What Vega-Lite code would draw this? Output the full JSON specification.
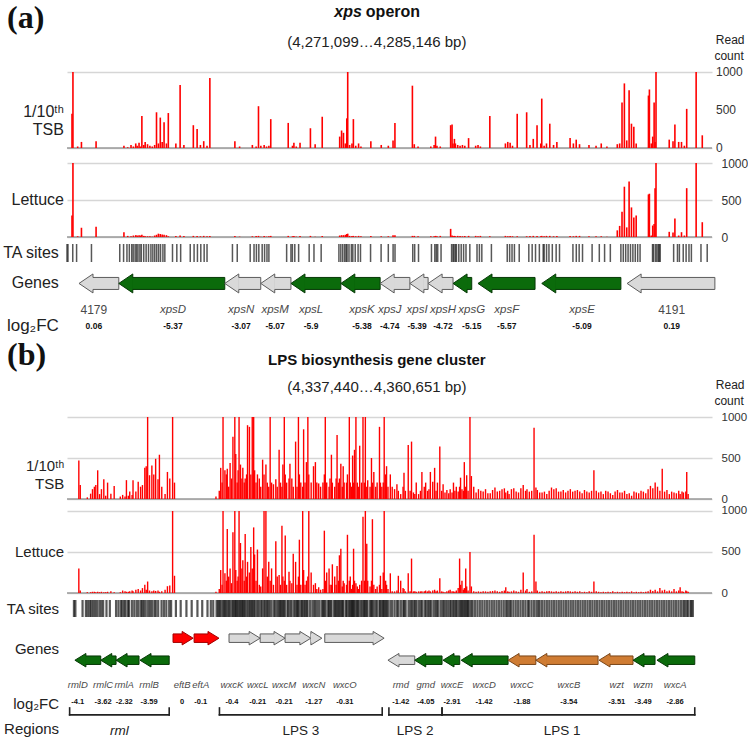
{
"$schema":"https://vega.github.io/schema/vega-lite/v6.json",
"padding":{"left":2,"top":0,"right":0,"bottom":0},
"background":"white",
"bounds":"flush",
"spacing":0,
"config":{"view":{"stroke":null},"font":"Liberation Sans","axis":{"labelOverlap":false,"labelBound":false,"labelSeparation":0,"format":"d"}},
"datasets":{
"sitesA":[{"pos":0,"tsb":450,"let":290},{"pos":2,"tsb":1000,"let":1000},{"pos":12,"tsb":20,"let":10},{"pos":20,"tsb":80,"let":125},{"pos":51,"tsb":90,"let":140},{"pos":110,"tsb":30,"let":65},{"pos":118,"tsb":10,"let":15},{"pos":125,"tsb":40,"let":10},{"pos":130,"tsb":20,"let":20},{"pos":135,"tsb":60,"let":25},{"pos":138,"tsb":30,"let":20},{"pos":142,"tsb":70,"let":25},{"pos":145,"tsb":20,"let":20},{"pos":148,"tsb":420,"let":30},{"pos":152,"tsb":40,"let":15},{"pos":155,"tsb":80,"let":10},{"pos":160,"tsb":50,"let":10},{"pos":165,"tsb":30,"let":10},{"pos":170,"tsb":20,"let":5},{"pos":175,"tsb":40,"let":20},{"pos":179,"tsb":470,"let":30},{"pos":183,"tsb":60,"let":45},{"pos":187,"tsb":400,"let":40},{"pos":191,"tsb":80,"let":35},{"pos":195,"tsb":340,"let":30},{"pos":200,"tsb":60,"let":25},{"pos":204,"tsb":460,"let":10},{"pos":220,"tsb":60,"let":15},{"pos":229,"tsb":830,"let":20},{"pos":237,"tsb":40,"let":15},{"pos":257,"tsb":300,"let":15},{"pos":265,"tsb":250,"let":15},{"pos":272,"tsb":40,"let":10},{"pos":279,"tsb":90,"let":15},{"pos":286,"tsb":30,"let":10},{"pos":292,"tsb":920,"let":15},{"pos":345,"tsb":90,"let":15},{"pos":355,"tsb":20,"let":5},{"pos":382,"tsb":40,"let":10},{"pos":390,"tsb":20,"let":15},{"pos":395,"tsb":550,"let":15},{"pos":400,"tsb":30,"let":5},{"pos":407,"tsb":40,"let":15},{"pos":412,"tsb":20,"let":5},{"pos":417,"tsb":30,"let":10},{"pos":421,"tsb":380,"let":15},{"pos":458,"tsb":330,"let":15},{"pos":467,"tsb":30,"let":10},{"pos":470,"tsb":70,"let":15},{"pos":475,"tsb":20,"let":5},{"pos":483,"tsb":70,"let":15},{"pos":505,"tsb":260,"let":15},{"pos":515,"tsb":50,"let":5},{"pos":530,"tsb":410,"let":15},{"pos":567,"tsb":150,"let":20},{"pos":571,"tsb":230,"let":25},{"pos":575,"tsb":200,"let":25},{"pos":579,"tsb":60,"let":30},{"pos":582,"tsb":390,"let":40},{"pos":584,"tsb":1000,"let":45},{"pos":588,"tsb":40,"let":15},{"pos":593,"tsb":60,"let":15},{"pos":596,"tsb":380,"let":15},{"pos":601,"tsb":30,"let":10},{"pos":607,"tsb":60,"let":15},{"pos":612,"tsb":20,"let":10},{"pos":633,"tsb":90,"let":15},{"pos":655,"tsb":40,"let":10},{"pos":670,"tsb":30,"let":10},{"pos":680,"tsb":100,"let":25},{"pos":684,"tsb":330,"let":25},{"pos":721,"tsb":820,"let":15},{"pos":725,"tsb":50,"let":15},{"pos":733,"tsb":20,"let":10},{"pos":760,"tsb":20,"let":10},{"pos":767,"tsb":40,"let":10},{"pos":770,"tsb":150,"let":15},{"pos":773,"tsb":30,"let":10},{"pos":780,"tsb":20,"let":15},{"pos":802,"tsb":300,"let":110},{"pos":805,"tsb":310,"let":20},{"pos":807,"tsb":60,"let":15},{"pos":810,"tsb":120,"let":15},{"pos":812,"tsb":60,"let":10},{"pos":817,"tsb":40,"let":15},{"pos":822,"tsb":30,"let":15},{"pos":827,"tsb":40,"let":10},{"pos":832,"tsb":30,"let":15},{"pos":840,"tsb":130,"let":15},{"pos":855,"tsb":30,"let":15},{"pos":860,"tsb":40,"let":10},{"pos":865,"tsb":20,"let":15},{"pos":885,"tsb":420,"let":10},{"pos":918,"tsb":60,"let":15},{"pos":923,"tsb":80,"let":10},{"pos":928,"tsb":70,"let":15},{"pos":933,"tsb":30,"let":10},{"pos":943,"tsb":450,"let":10},{"pos":963,"tsb":470,"let":10},{"pos":970,"tsb":40,"let":15},{"pos":977,"tsb":120,"let":15},{"pos":985,"tsb":300,"let":15},{"pos":993,"tsb":60,"let":10},{"pos":995,"tsb":650,"let":15},{"pos":1000,"tsb":30,"let":10},{"pos":1005,"tsb":60,"let":15},{"pos":1012,"tsb":320,"let":15},{"pos":1020,"tsb":40,"let":10},{"pos":1027,"tsb":80,"let":15},{"pos":1055,"tsb":130,"let":15},{"pos":1062,"tsb":60,"let":10},{"pos":1068,"tsb":110,"let":15},{"pos":1075,"tsb":50,"let":15},{"pos":1095,"tsb":40,"let":10},{"pos":1110,"tsb":30,"let":10},{"pos":1121,"tsb":60,"let":10},{"pos":1133,"tsb":20,"let":5},{"pos":1155,"tsb":50,"let":90},{"pos":1160,"tsb":60,"let":150},{"pos":1165,"tsb":600,"let":340},{"pos":1170,"tsb":850,"let":680},{"pos":1175,"tsb":100,"let":130},{"pos":1180,"tsb":760,"let":750},{"pos":1185,"tsb":320,"let":400},{"pos":1190,"tsb":280,"let":265},{"pos":1195,"tsb":60,"let":290},{"pos":1221,"tsb":690,"let":575},{"pos":1223,"tsb":770,"let":585},{"pos":1227,"tsb":60,"let":20},{"pos":1230,"tsb":150,"let":155},{"pos":1233,"tsb":600,"let":175},{"pos":1235,"tsb":80,"let":660},{"pos":1237,"tsb":1000,"let":1000},{"pos":1265,"tsb":110,"let":70},{"pos":1273,"tsb":90,"let":60},{"pos":1277,"tsb":310,"let":250},{"pos":1285,"tsb":80,"let":20},{"pos":1291,"tsb":80,"let":65},{"pos":1297,"tsb":30,"let":20},{"pos":1302,"tsb":515,"let":660},{"pos":1322,"tsb":1000,"let":1000},{"pos":1335,"tsb":167,"let":200}],
"sitesB":[{"pos":2,"tsb":470,"let":300},{"pos":5,"tsb":170,"let":30},{"pos":20,"tsb":20,"let":10},{"pos":27,"tsb":65,"let":10},{"pos":31,"tsb":120,"let":15},{"pos":35,"tsb":150,"let":15},{"pos":38,"tsb":170,"let":10},{"pos":42,"tsb":350,"let":15},{"pos":46,"tsb":60,"let":10},{"pos":50,"tsb":120,"let":15},{"pos":55,"tsb":240,"let":10},{"pos":59,"tsb":40,"let":10},{"pos":63,"tsb":200,"let":15},{"pos":70,"tsb":65,"let":20},{"pos":77,"tsb":160,"let":10},{"pos":90,"tsb":30,"let":10},{"pos":95,"tsb":50,"let":30},{"pos":100,"tsb":30,"let":20},{"pos":103,"tsb":230,"let":15},{"pos":107,"tsb":40,"let":15},{"pos":110,"tsb":90,"let":20},{"pos":115,"tsb":50,"let":30},{"pos":117,"tsb":230,"let":20},{"pos":123,"tsb":90,"let":40},{"pos":128,"tsb":210,"let":50},{"pos":133,"tsb":150,"let":30},{"pos":137,"tsb":170,"let":60},{"pos":142,"tsb":380,"let":100},{"pos":145,"tsb":400,"let":40},{"pos":148,"tsb":1000,"let":140},{"pos":152,"tsb":290,"let":30},{"pos":157,"tsb":410,"let":20},{"pos":161,"tsb":300,"let":30},{"pos":165,"tsb":490,"let":25},{"pos":170,"tsb":240,"let":30},{"pos":173,"tsb":540,"let":15},{"pos":178,"tsb":150,"let":20},{"pos":185,"tsb":60,"let":40},{"pos":190,"tsb":330,"let":83},{"pos":195,"tsb":250,"let":90},{"pos":201,"tsb":1000,"let":1000},{"pos":205,"tsb":200,"let":210},{"pos":215,"tsb":0,"let":0},{"pos":225,"tsb":0,"let":0},{"pos":237,"tsb":0,"let":0},{"pos":248,"tsb":0,"let":0},{"pos":260,"tsb":0,"let":0},{"pos":270,"tsb":0,"let":0},{"pos":281,"tsb":0,"let":0},{"pos":288,"tsb":0,"let":0},{"pos":293,"tsb":30,"let":15},{"pos":300,"tsb":100,"let":50},{"pos":303,"tsb":380,"let":280},{"pos":306,"tsb":200,"let":100},{"pos":308,"tsb":1000,"let":1000},{"pos":312,"tsb":350,"let":240},{"pos":315,"tsb":300,"let":150},{"pos":317,"tsb":370,"let":780},{"pos":320,"tsb":150,"let":200},{"pos":323,"tsb":440,"let":300},{"pos":326,"tsb":250,"let":120},{"pos":329,"tsb":760,"let":740},{"pos":333,"tsb":1000,"let":1000},{"pos":335,"tsb":550,"let":280},{"pos":338,"tsb":200,"let":150},{"pos":340,"tsb":350,"let":200},{"pos":342,"tsb":1000,"let":1000},{"pos":345,"tsb":420,"let":610},{"pos":348,"tsb":250,"let":300},{"pos":350,"tsb":380,"let":400},{"pos":353,"tsb":200,"let":150},{"pos":355,"tsb":250,"let":720},{"pos":358,"tsb":300,"let":200},{"pos":360,"tsb":900,"let":380},{"pos":364,"tsb":880,"let":250},{"pos":367,"tsb":300,"let":560},{"pos":370,"tsb":1000,"let":300},{"pos":373,"tsb":1000,"let":800},{"pos":375,"tsb":350,"let":470},{"pos":378,"tsb":200,"let":150},{"pos":381,"tsb":300,"let":530},{"pos":385,"tsb":250,"let":100},{"pos":388,"tsb":150,"let":80},{"pos":392,"tsb":480,"let":300},{"pos":395,"tsb":300,"let":1000},{"pos":399,"tsb":420,"let":1000},{"pos":402,"tsb":200,"let":200},{"pos":405,"tsb":150,"let":380},{"pos":408,"tsb":1000,"let":150},{"pos":411,"tsb":200,"let":300},{"pos":415,"tsb":180,"let":100},{"pos":420,"tsb":240,"let":630},{"pos":423,"tsb":150,"let":200},{"pos":427,"tsb":600,"let":220},{"pos":430,"tsb":200,"let":100},{"pos":433,"tsb":150,"let":820},{"pos":435,"tsb":420,"let":200},{"pos":438,"tsb":1000,"let":150},{"pos":440,"tsb":300,"let":700},{"pos":443,"tsb":200,"let":100},{"pos":448,"tsb":250,"let":260},{"pos":450,"tsb":430,"let":150},{"pos":454,"tsb":250,"let":120},{"pos":457,"tsb":150,"let":480},{"pos":462,"tsb":700,"let":380},{"pos":465,"tsb":150,"let":100},{"pos":468,"tsb":1000,"let":200},{"pos":470,"tsb":300,"let":650},{"pos":473,"tsb":200,"let":100},{"pos":477,"tsb":150,"let":1000},{"pos":479,"tsb":850,"let":280},{"pos":482,"tsb":200,"let":100},{"pos":485,"tsb":450,"let":150},{"pos":488,"tsb":1000,"let":200},{"pos":490,"tsb":300,"let":1000},{"pos":495,"tsb":200,"let":250},{"pos":500,"tsb":400,"let":100},{"pos":504,"tsb":450,"let":120},{"pos":507,"tsb":200,"let":50},{"pos":511,"tsb":190,"let":70},{"pos":515,"tsb":150,"let":40},{"pos":520,"tsb":200,"let":50},{"pos":523,"tsb":300,"let":760},{"pos":525,"tsb":1000,"let":150},{"pos":528,"tsb":200,"let":250},{"pos":533,"tsb":150,"let":300},{"pos":535,"tsb":250,"let":100},{"pos":538,"tsb":540,"let":100},{"pos":540,"tsb":200,"let":350},{"pos":545,"tsb":150,"let":200},{"pos":548,"tsb":250,"let":100},{"pos":550,"tsb":780,"let":330},{"pos":553,"tsb":200,"let":150},{"pos":555,"tsb":250,"let":460},{"pos":558,"tsb":430,"let":540},{"pos":561,"tsb":150,"let":80},{"pos":563,"tsb":400,"let":150},{"pos":565,"tsb":200,"let":120},{"pos":570,"tsb":200,"let":100},{"pos":572,"tsb":300,"let":710},{"pos":576,"tsb":1000,"let":150},{"pos":578,"tsb":200,"let":200},{"pos":581,"tsb":150,"let":50},{"pos":583,"tsb":530,"let":100},{"pos":585,"tsb":200,"let":540},{"pos":587,"tsb":600,"let":150},{"pos":590,"tsb":1000,"let":120},{"pos":593,"tsb":200,"let":80},{"pos":595,"tsb":150,"let":50},{"pos":598,"tsb":650,"let":100},{"pos":602,"tsb":200,"let":150},{"pos":605,"tsb":1000,"let":930},{"pos":608,"tsb":200,"let":150},{"pos":610,"tsb":1000,"let":1000},{"pos":613,"tsb":150,"let":600},{"pos":615,"tsb":230,"let":150},{"pos":620,"tsb":150,"let":80},{"pos":623,"tsb":500,"let":150},{"pos":625,"tsb":200,"let":900},{"pos":628,"tsb":330,"let":100},{"pos":632,"tsb":150,"let":50},{"pos":635,"tsb":200,"let":80},{"pos":640,"tsb":880,"let":100},{"pos":642,"tsb":200,"let":210},{"pos":645,"tsb":150,"let":50},{"pos":648,"tsb":200,"let":250},{"pos":650,"tsb":1000,"let":1000},{"pos":653,"tsb":300,"let":150},{"pos":655,"tsb":400,"let":100},{"pos":658,"tsb":150,"let":50},{"pos":663,"tsb":300,"let":240},{"pos":667,"tsb":150,"let":20},{"pos":672,"tsb":120,"let":20},{"pos":677,"tsb":180,"let":30},{"pos":680,"tsb":100,"let":210},{"pos":685,"tsb":60,"let":150},{"pos":690,"tsb":150,"let":60},{"pos":692,"tsb":320,"let":50},{"pos":695,"tsb":100,"let":20},{"pos":701,"tsb":660,"let":240},{"pos":705,"tsb":100,"let":20},{"pos":708,"tsb":700,"let":420},{"pos":712,"tsb":80,"let":20},{"pos":715,"tsb":60,"let":20},{"pos":718,"tsb":200,"let":15},{"pos":723,"tsb":60,"let":20},{"pos":727,"tsb":100,"let":20},{"pos":730,"tsb":330,"let":20},{"pos":735,"tsb":150,"let":20},{"pos":738,"tsb":200,"let":30},{"pos":742,"tsb":100,"let":20},{"pos":745,"tsb":120,"let":30},{"pos":748,"tsb":330,"let":20},{"pos":753,"tsb":210,"let":30},{"pos":757,"tsb":380,"let":40},{"pos":760,"tsb":100,"let":20},{"pos":763,"tsb":200,"let":30},{"pos":768,"tsb":640,"let":180},{"pos":772,"tsb":100,"let":20},{"pos":775,"tsb":180,"let":15},{"pos":779,"tsb":80,"let":10},{"pos":783,"tsb":110,"let":20},{"pos":787,"tsb":70,"let":30},{"pos":790,"tsb":120,"let":40},{"pos":794,"tsb":80,"let":20},{"pos":797,"tsb":200,"let":20},{"pos":800,"tsb":100,"let":15},{"pos":803,"tsb":150,"let":30},{"pos":807,"tsb":90,"let":60},{"pos":810,"tsb":150,"let":420},{"pos":812,"tsb":260,"let":100},{"pos":815,"tsb":120,"let":150},{"pos":818,"tsb":100,"let":40},{"pos":820,"tsb":450,"let":60},{"pos":823,"tsb":150,"let":300},{"pos":825,"tsb":290,"let":80},{"pos":828,"tsb":100,"let":30},{"pos":832,"tsb":1000,"let":500},{"pos":835,"tsb":280,"let":80},{"pos":840,"tsb":150,"let":20},{"pos":845,"tsb":80,"let":15},{"pos":850,"tsb":120,"let":20},{"pos":855,"tsb":100,"let":15},{"pos":860,"tsb":90,"let":20},{"pos":865,"tsb":120,"let":20},{"pos":870,"tsb":70,"let":15},{"pos":875,"tsb":70,"let":20},{"pos":880,"tsb":110,"let":25},{"pos":885,"tsb":140,"let":30},{"pos":890,"tsb":90,"let":20},{"pos":895,"tsb":100,"let":15},{"pos":900,"tsb":120,"let":25},{"pos":905,"tsb":130,"let":30},{"pos":908,"tsb":80,"let":70},{"pos":912,"tsb":100,"let":20},{"pos":915,"tsb":60,"let":15},{"pos":920,"tsb":120,"let":20},{"pos":925,"tsb":130,"let":30},{"pos":930,"tsb":90,"let":20},{"pos":935,"tsb":80,"let":15},{"pos":940,"tsb":130,"let":40},{"pos":945,"tsb":170,"let":250},{"pos":950,"tsb":100,"let":30},{"pos":953,"tsb":120,"let":50},{"pos":958,"tsb":90,"let":15},{"pos":963,"tsb":100,"let":20},{"pos":968,"tsb":870,"let":710},{"pos":972,"tsb":140,"let":140},{"pos":975,"tsb":110,"let":30},{"pos":980,"tsb":80,"let":15},{"pos":985,"tsb":80,"let":20},{"pos":990,"tsb":90,"let":15},{"pos":995,"tsb":60,"let":20},{"pos":1000,"tsb":100,"let":25},{"pos":1005,"tsb":140,"let":20},{"pos":1010,"tsb":120,"let":15},{"pos":1015,"tsb":130,"let":20},{"pos":1020,"tsb":90,"let":15},{"pos":1025,"tsb":90,"let":20},{"pos":1030,"tsb":110,"let":15},{"pos":1035,"tsb":80,"let":20},{"pos":1040,"tsb":100,"let":25},{"pos":1045,"tsb":120,"let":20},{"pos":1050,"tsb":90,"let":15},{"pos":1055,"tsb":100,"let":20},{"pos":1060,"tsb":110,"let":15},{"pos":1065,"tsb":90,"let":20},{"pos":1070,"tsb":70,"let":10},{"pos":1075,"tsb":110,"let":15},{"pos":1080,"tsb":90,"let":10},{"pos":1085,"tsb":80,"let":20},{"pos":1090,"tsb":100,"let":15},{"pos":1095,"tsb":350,"let":140},{"pos":1100,"tsb":100,"let":20},{"pos":1105,"tsb":80,"let":15},{"pos":1110,"tsb":90,"let":10},{"pos":1115,"tsb":60,"let":15},{"pos":1120,"tsb":100,"let":10},{"pos":1125,"tsb":90,"let":15},{"pos":1130,"tsb":70,"let":10},{"pos":1135,"tsb":50,"let":20},{"pos":1140,"tsb":90,"let":10},{"pos":1145,"tsb":110,"let":15},{"pos":1150,"tsb":80,"let":10},{"pos":1155,"tsb":80,"let":15},{"pos":1160,"tsb":100,"let":10},{"pos":1165,"tsb":60,"let":15},{"pos":1170,"tsb":70,"let":10},{"pos":1175,"tsb":40,"let":20},{"pos":1180,"tsb":90,"let":10},{"pos":1185,"tsb":80,"let":15},{"pos":1190,"tsb":70,"let":10},{"pos":1195,"tsb":100,"let":15},{"pos":1200,"tsb":90,"let":10},{"pos":1205,"tsb":70,"let":15},{"pos":1210,"tsb":120,"let":20},{"pos":1215,"tsb":160,"let":40},{"pos":1220,"tsb":130,"let":25},{"pos":1225,"tsb":200,"let":40},{"pos":1230,"tsb":150,"let":20},{"pos":1235,"tsb":100,"let":60},{"pos":1240,"tsb":370,"let":30},{"pos":1245,"tsb":90,"let":40},{"pos":1250,"tsb":110,"let":20},{"pos":1255,"tsb":60,"let":30},{"pos":1260,"tsb":90,"let":20},{"pos":1265,"tsb":80,"let":50},{"pos":1270,"tsb":70,"let":20},{"pos":1275,"tsb":100,"let":30},{"pos":1278,"tsb":60,"let":70},{"pos":1282,"tsb":90,"let":20},{"pos":1285,"tsb":80,"let":15},{"pos":1290,"tsb":90,"let":30},{"pos":1292,"tsb":330,"let":20},{"pos":1295,"tsb":60,"let":15}],
"genesA":[{"gene":"4179","from":25,"to":108,"strand":-1,"cat":"neutral","lab":56,"fc":"0.06"},{"gene":"xpsD","from":108,"to":329,"strand":-1,"cat":"loss","lab":221,"fc":"-5.37"},{"gene":"xpsN","from":329,"to":404,"strand":-1,"cat":"neutral","lab":363,"fc":"-3.07"},{"gene":"xpsM","from":404,"to":467,"strand":-1,"cat":"neutral","lab":434,"fc":"-5.07"},{"gene":"xpsL","from":467,"to":571,"strand":-1,"cat":"loss","lab":509,"fc":"-5.9"},{"gene":"xpsK","from":571,"to":653,"strand":-1,"cat":"loss","lab":615,"fc":"-5.38"},{"gene":"xpsJ","from":653,"to":715,"strand":-1,"cat":"neutral","lab":673,"fc":"-4.74"},{"gene":"xpsI","from":715,"to":753,"strand":-1,"cat":"neutral","lab":730,"fc":"-5.39"},{"gene":"xpsH","from":753,"to":805,"strand":-1,"cat":"neutral","lab":784,"fc":"-4.72"},{"gene":"xpsG","from":805,"to":844,"strand":-1,"cat":"loss","lab":844,"fc":"-5.15"},{"gene":"xpsF","from":857,"to":976,"strand":-1,"cat":"loss","lab":917,"fc":"-5.57"},{"gene":"xpsE","from":990,"to":1155,"strand":-1,"cat":"loss","lab":1074,"fc":"-5.09"},{"gene":"4191","from":1168,"to":1351,"strand":-1,"cat":"neutral","lab":1261,"fc":"0.19"}],
"genesB":[{"gene":"rmlD","from":4,"to":58,"strand":-1,"cat":"loss","lab":10,"fc":"-4.1"},{"gene":"rmlC","from":58,"to":90,"strand":-1,"cat":"loss","lab":63,"fc":"-3.62"},{"gene":"rmlA","from":90,"to":138,"strand":-1,"cat":"loss","lab":107,"fc":"-2.32"},{"gene":"rmlB","from":140,"to":201,"strand":-1,"cat":"loss","lab":159,"fc":"-3.59"},{"gene":"eftB","from":209,"to":251,"strand":1,"cat":"focus","lab":228,"fc":"0"},{"gene":"eftA","from":253,"to":305,"strand":1,"cat":"focus","lab":267,"fc":"-0.1"},{"gene":"wxcK","from":326,"to":391,"strand":1,"cat":"neutral","lab":332,"fc":"-0.4"},{"gene":"wxcL","from":391,"to":443,"strand":1,"cat":"neutral","lab":386,"fc":"-0.21"},{"gene":"wxcM","from":443,"to":497,"strand":1,"cat":"neutral","lab":441,"fc":"-0.21"},{"gene":"wxcN","from":497,"to":520,"strand":1,"cat":"neutral","lab":503,"fc":"-1.27"},{"gene":"wxcO","from":526,"to":650,"strand":1,"cat":"neutral","lab":568,"fc":"-0.31"},{"gene":"rmd","from":658,"to":714,"strand":-1,"cat":"neutral","lab":685,"fc":"-1.42"},{"gene":"gmd","from":714,"to":771,"strand":-1,"cat":"loss","lab":737,"fc":"-4.05"},{"gene":"wxcE","from":773,"to":808,"strand":-1,"cat":"loss","lab":792,"fc":"-2.91"},{"gene":"wxcD","from":811,"to":909,"strand":-1,"cat":"loss","lab":859,"fc":"-1.42"},{"gene":"wxcC","from":909,"to":967,"strand":-1,"cat":"loss-b","lab":938,"fc":"-1.88"},{"gene":"wxcB","from":967,"to":1097,"strand":-1,"cat":"loss-b","lab":1036,"fc":"-3.54"},{"gene":"wzt","from":1099,"to":1170,"strand":-1,"cat":"loss-b","lab":1136,"fc":"-3.51"},{"gene":"wzm","from":1170,"to":1216,"strand":-1,"cat":"loss","lab":1191,"fc":"-3.49"},{"gene":"wxcA","from":1220,"to":1299,"strand":-1,"cat":"loss","lab":1258,"fc":"-2.86"}],
"regionsB":[{"region":"rml","from":-7,"to":201,"lab":97},{"region":"LPS 3","from":306,"to":646,"lab":476},{"region":"LPS 2","from":660,"to":771,"lab":715},{"region":"LPS 1","from":771,"to":1299,"lab":1022}],
"ticks":[{"v":0},{"v":500},{"v":1000}]
},
"vconcat":[
{"width":645,"height":72,"data":{"values":[{}]},
 "layer":[
  {"mark":{"type":"text","text":"(a)","font":"Liberation Serif","fontWeight":"bold","fontSize":32,"align":"left","baseline":"middle","dy":-18,"color":"#111"},
   "encoding":{"x":{"datum":-125,"type":"quantitative","scale":{"domain":[0,1345],"nice":false,"zero":false},"axis":null}}},
  {"mark":{"type":"text","text":"xps","fontWeight":"bold","fontStyle":"italic","fontSize":16,"align":"right","baseline":"middle","dx":-2,"dy":-24,"color":"#111"},
   "encoding":{"x":{"datum":619,"type":"quantitative"}}},
  {"mark":{"type":"text","text":"operon","fontWeight":"bold","fontSize":16,"align":"left","baseline":"middle","dx":2,"dy":-24,"color":"#111"},
   "encoding":{"x":{"datum":619,"type":"quantitative"}}},
  {"mark":{"type":"text","text":"(4,271,099…4,285,146 bp)","fontSize":15,"align":"center","baseline":"middle","dy":6,"color":"#222"},
   "encoding":{"x":{"datum":646,"type":"quantitative"}}},
  {"mark":{"type":"text","text":"Read","fontSize":12,"align":"left","baseline":"middle","dy":4,"color":"#222"},
   "encoding":{"x":{"datum":1353,"type":"quantitative"}}},
  {"mark":{"type":"text","text":"count","fontSize":12,"align":"left","baseline":"middle","dy":20,"color":"#222"},
   "encoding":{"x":{"datum":1350,"type":"quantitative"}}}
 ]},
{"width":645,"height":76,"data":{"name":"sitesA"},
 "layer":[
  {"data":{"values":[{}]},"mark":{"type":"rule","color":"#9a9a9a","strokeWidth":1.6},"encoding":{"y":{"datum":0,"type":"quantitative"}}},
  {"mark":{"type":"bar","color":"#ff0000","width":1.6},
   "encoding":{"x":{"field":"pos","type":"quantitative","scale":{"domain":[0,1345],"nice":false,"zero":false},"axis":null},
    "y":{"field":"tsb","type":"quantitative","scale":{"domain":[0,1000],"nice":false},"axis":{"orient":"right","values":[0,500,1000],"labels":false,"grid":true,"gridColor":"#d6d6d6","gridWidth":1.3,"domain":false,"ticks":false,"title":null}}}},
  {"data":{"name":"ticks"},"mark":{"type":"text","align":"left","baseline":"middle","dx":9,"fontSize":12,"color":"#333"},
   "encoding":{"x":{"datum":1345,"type":"quantitative"},"y":{"field":"v","type":"quantitative"},"text":{"field":"v","type":"quantitative","format":"d"}}},
  {"data":{"values":[{}]},"mark":{"type":"text","text":["1/10ᵗʰ","TSB"],"fontSize":16,"lineHeight":18,"align":"right","baseline":"middle","color":"#222"},
   "encoding":{"x":{"datum":-17,"type":"quantitative"},"y":{"datum":480,"type":"quantitative"}}}
 ]},
{"width":645,"height":89,"data":{"name":"sitesA"},
 "layer":[
  {"data":{"values":[{}]},"mark":{"type":"rule","color":"#9a9a9a","strokeWidth":1.6},"encoding":{"y":{"datum":0,"type":"quantitative"}}},
  {"mark":{"type":"bar","color":"#ff0000","width":1.6},
   "encoding":{"x":{"field":"pos","type":"quantitative","scale":{"domain":[0,1345],"nice":false,"zero":false},"axis":null},
    "y":{"field":"let","type":"quantitative","scale":{"domain":[0,1203],"nice":false},"axis":{"orient":"right","values":[0,500,1000],"format":"d","labelOverlap":false,"grid":true,"gridColor":"#d6d6d6","gridWidth":1.3,"domain":false,"ticks":false,"labelFontSize":12,"labelColor":"#333","labelPadding":9,"title":null}}}},
  {"data":{"values":[{}]},"mark":{"type":"text","text":"Lettuce","fontSize":16,"align":"right","baseline":"middle","color":"#222"},
   "encoding":{"x":{"datum":-17,"type":"quantitative"},"y":{"datum":500,"type":"quantitative"}}}
 ]},
{"width":645,"height":32,"data":{"name":"sitesA"},
 "layer":[
  {"mark":{"type":"tick","color":"#111","thickness":1.5,"size":18},
   "encoding":{"x":{"field":"pos","type":"quantitative","scale":{"domain":[0,1345],"nice":false,"zero":false},"axis":null}}},
  {"data":{"values":[{}]},"mark":{"type":"text","text":"TA sites","fontSize":16,"align":"right","baseline":"middle","color":"#222"},
   "encoding":{"x":{"datum":-17,"type":"quantitative"}}}
 ]},
{"width":645,"height":71,"data":{"name":"genesA"},
 "layer":[
  {"mark":{"type":"bar","height":12,"xOffset":13,"strokeWidth":1},
   "encoding":{"x":{"field":"from","type":"quantitative","scale":{"domain":[0,1345],"nice":false,"zero":false},"axis":null},"x2":{"field":"to"},
    "y":{"field":"strand","type":"quantitative","scale":{"domain":[-6.4545,0],"nice":false,"zero":false},"axis":null},
    "fill":{"field":"cat","type":"nominal","scale":{"domain":["loss","neutral","loss-b","focus"],"range":["#0b6b0b","#d9d9d9","#cf7c33","#ff0000"]},"legend":null},
    "stroke":{"field":"cat","type":"nominal","scale":{"domain":["loss","neutral","loss-b","focus"],"range":["#063806","#5c5c5c","#7a4619","#a30000"]},"legend":null}}},
  {"mark":{"type":"point","shape":"M1.474,-0.632L1.474,-1L0,0L1.474,1L1.474,0.632","size":361,"filled":true,"strokeWidth":1,"opacity":1},
   "encoding":{"x":{"field":"from","type":"quantitative"},"y":{"field":"strand","type":"quantitative"},
    "fill":{"field":"cat","type":"nominal","legend":null},"stroke":{"field":"cat","type":"nominal","legend":null}}},
  {"transform":[{"filter":"!test(/^[0-9]/, datum.gene)"}],"mark":{"type":"text","fontStyle":"italic","fontSize":11.5,"color":"#4a4a4a","dy":27,"baseline":"middle"},
   "encoding":{"x":{"field":"lab","type":"quantitative"},"y":{"field":"strand","type":"quantitative"},"text":{"field":"gene"}}},
  {"transform":[{"filter":"test(/^[0-9]/, datum.gene)"}],"mark":{"type":"text","fontSize":12,"color":"#4a4a4a","dy":27,"baseline":"middle"},
   "encoding":{"x":{"field":"lab","type":"quantitative"},"y":{"field":"strand","type":"quantitative"},"text":{"field":"gene"}}},
  {"mark":{"type":"text","fontWeight":"bold","fontSize":8.5,"color":"#111","dy":43,"baseline":"middle"},
   "encoding":{"x":{"field":"lab","type":"quantitative"},"y":{"field":"strand","type":"quantitative"},"text":{"field":"fc"}}},
  {"data":{"values":[{}]},"mark":{"type":"text","text":"Genes","fontSize":16,"align":"right","baseline":"middle","color":"#222"},
   "encoding":{"x":{"datum":-17,"type":"quantitative"},"y":{"datum":-1,"type":"quantitative"}}},
  {"data":{"values":[{}]},"mark":{"type":"text","text":"log₂FC","fontSize":17,"align":"right","baseline":"middle","dy":43,"color":"#222"},
   "encoding":{"x":{"datum":-17,"type":"quantitative"},"y":{"datum":-1,"type":"quantitative"}}}
 ]},
{"width":645,"height":77,"data":{"values":[{}]},
 "layer":[
  {"mark":{"type":"text","text":"(b)","font":"Liberation Serif","fontWeight":"bold","fontSize":32,"align":"left","baseline":"middle","dy":-24,"color":"#111"},
   "encoding":{"x":{"datum":-125,"type":"quantitative","scale":{"domain":[0,1345],"nice":false,"zero":false},"axis":null}}},
  {"mark":{"type":"text","text":"LPS biosynthesis gene cluster","fontWeight":"bold","fontSize":15,"align":"center","baseline":"middle","dy":-19,"color":"#111"},
   "encoding":{"x":{"datum":646,"type":"quantitative"}}},
  {"mark":{"type":"text","text":"(4,337,440…4,360,651 bp)","fontSize":15,"align":"center","baseline":"middle","dy":8.5,"color":"#222"},
   "encoding":{"x":{"datum":646,"type":"quantitative"}}},
  {"mark":{"type":"text","text":"Read","fontSize":12,"align":"left","baseline":"middle","dy":6.5,"color":"#222"},
   "encoding":{"x":{"datum":1353,"type":"quantitative"}}},
  {"mark":{"type":"text","text":"count","fontSize":12,"align":"left","baseline":"middle","dy":22.5,"color":"#222"},
   "encoding":{"x":{"datum":1350,"type":"quantitative"}}}
 ]},
{"width":645,"height":82,"data":{"name":"sitesB"},
 "layer":[
  {"data":{"values":[{}]},"mark":{"type":"rule","color":"#9a9a9a","strokeWidth":1.6},"encoding":{"y":{"datum":0,"type":"quantitative"}}},
  {"mark":{"type":"bar","color":"#ff0000","width":1.4},
   "encoding":{"x":{"field":"pos","type":"quantitative","scale":{"domain":[-12.5,1335],"nice":false,"zero":false},"axis":null},
    "y":{"field":"tsb","type":"quantitative","scale":{"domain":[0,1000],"nice":false},"axis":{"orient":"right","values":[0,500,1000],"format":"d","labelOverlap":false,"grid":true,"gridColor":"#d6d6d6","gridWidth":1.3,"domain":false,"ticks":false,"labelFontSize":11.5,"labelColor":"#333","labelPadding":9,"title":null}}}},
  {"data":{"values":[{}]},"mark":{"type":"text","text":["1/10ᵗʰ","TSB"],"fontSize":15,"lineHeight":18,"align":"right","baseline":"middle","color":"#222"},
   "encoding":{"x":{"datum":-29,"type":"quantitative"},"y":{"datum":400,"type":"quantitative"}}}
 ]},
{"width":645,"height":94,"data":{"name":"sitesB"},
 "layer":[
  {"data":{"values":[{}]},"mark":{"type":"rule","color":"#9a9a9a","strokeWidth":1.6},"encoding":{"y":{"datum":0,"type":"quantitative"}}},
  {"mark":{"type":"bar","color":"#ff0000","width":1.4},
   "encoding":{"x":{"field":"pos","type":"quantitative","scale":{"domain":[-12.5,1335],"nice":false,"zero":false},"axis":null},
    "y":{"field":"let","type":"quantitative","scale":{"domain":[0,1146.3],"nice":false},"axis":{"orient":"right","values":[0,500,1000],"format":"d","labelOverlap":false,"grid":true,"gridColor":"#d6d6d6","gridWidth":1.3,"domain":false,"ticks":false,"labelFontSize":11.5,"labelColor":"#333","labelPadding":9,"title":null}}}},
  {"data":{"values":[{}]},"mark":{"type":"text","text":"Lettuce","fontSize":15,"align":"right","baseline":"middle","color":"#222"},
   "encoding":{"x":{"datum":-29,"type":"quantitative"},"y":{"datum":500,"type":"quantitative"}}}
 ]},
{"width":645,"height":31,"data":{"name":"sitesB"},
 "layer":[
  {"mark":{"type":"tick","color":"#111","thickness":2.2,"size":17},
   "encoding":{"x":{"field":"pos","type":"quantitative","scale":{"domain":[-12.5,1335],"nice":false,"zero":false},"axis":null}}},
  {"data":{"values":[{}]},"mark":{"type":"text","text":"TA sites","fontSize":15,"align":"right","baseline":"middle","color":"#222"},
   "encoding":{"x":{"datum":-29,"type":"quantitative"}}}
 ]},
{"width":645,"height":122,"data":{"name":"genesB"},
 "layer":[
  {"transform":[{"filter":"datum.strand == -1"}],"mark":{"type":"bar","height":8.5,"xOffset":10,"strokeWidth":1},
   "encoding":{"x":{"field":"from","type":"quantitative","scale":{"domain":[-12.5,1335],"nice":false,"zero":false},"axis":null},"x2":{"field":"to"},
    "y":{"field":"strand","type":"quantitative","scale":{"domain":[-8.3333,1.8333],"nice":false,"zero":false},"axis":null},
    "fill":{"field":"cat","type":"nominal","scale":{"domain":["loss","neutral","loss-b","focus"],"range":["#0b6b0b","#d9d9d9","#cf7c33","#ff0000"]},"legend":null},
    "stroke":{"field":"cat","type":"nominal","scale":{"domain":["loss","neutral","loss-b","focus"],"range":["#063806","#5c5c5c","#7a4619","#a30000"]},"legend":null}}},
  {"transform":[{"filter":"datum.strand == 1"}],"mark":{"type":"bar","height":8.5,"x2Offset":-10,"strokeWidth":1},
   "encoding":{"x":{"field":"from","type":"quantitative"},"x2":{"field":"to"},"y":{"field":"strand","type":"quantitative"},
    "fill":{"field":"cat","type":"nominal","legend":null},"stroke":{"field":"cat","type":"nominal","legend":null}}},
  {"transform":[{"filter":"datum.strand == -1"}],"mark":{"type":"point","shape":"M1.63,-0.63L1.63,-1L0,0L1.63,1L1.63,0.63","size":182,"filled":true,"strokeWidth":1,"opacity":1},
   "encoding":{"x":{"field":"from","type":"quantitative"},"y":{"field":"strand","type":"quantitative"},
    "fill":{"field":"cat","type":"nominal","legend":null},"stroke":{"field":"cat","type":"nominal","legend":null}}},
  {"transform":[{"filter":"datum.strand == 1"}],"mark":{"type":"point","shape":"M-1.63,-0.63L-1.63,-1L0,0L-1.63,1L-1.63,0.63","size":182,"filled":true,"strokeWidth":1,"opacity":1},
   "encoding":{"x":{"field":"to","type":"quantitative"},"y":{"field":"strand","type":"quantitative"},
    "fill":{"field":"cat","type":"nominal","legend":null},"stroke":{"field":"cat","type":"nominal","legend":null}}},
  {"mark":{"type":"text","fontStyle":"italic","fontSize":9.5,"color":"#4a4a4a","dy":25,"baseline":"middle"},
   "encoding":{"x":{"field":"lab","type":"quantitative"},"y":{"datum":-1,"type":"quantitative"},"text":{"field":"gene"}}},
  {"mark":{"type":"text","fontWeight":"bold","fontSize":7.5,"color":"#111","dy":41.5,"baseline":"middle"},
   "encoding":{"x":{"field":"lab","type":"quantitative"},"y":{"datum":-1,"type":"quantitative"},"text":{"field":"fc"}}},
  {"data":{"name":"regionsB"},"mark":{"type":"rule","color":"#222","strokeWidth":1.6,"strokeCap":"square"},
   "encoding":{"x":{"field":"from","type":"quantitative"},"x2":{"field":"to"},"y":{"datum":-5.958,"type":"quantitative"}}},
  {"data":{"name":"regionsB"},"transform":[{"fold":["from","to"],"as":["end","xe"]}],"mark":{"type":"rule","color":"#222","strokeWidth":1.6,"strokeCap":"square"},
   "encoding":{"x":{"field":"xe","type":"quantitative"},"y":{"datum":-5.333,"type":"quantitative"},"y2":{"datum":-5.958}}},
  {"data":{"name":"regionsB"},"transform":[{"filter":"datum.region == 'rml'"}],"mark":{"type":"text","fontStyle":"italic","fontSize":13.5,"color":"#222","baseline":"middle"},
   "encoding":{"x":{"field":"lab","type":"quantitative"},"y":{"datum":-7.45,"type":"quantitative"},"text":{"field":"region"}}},
  {"data":{"name":"regionsB"},"transform":[{"filter":"datum.region != 'rml'"}],"mark":{"type":"text","fontSize":13.5,"color":"#222","baseline":"middle"},
   "encoding":{"x":{"field":"lab","type":"quantitative"},"y":{"datum":-7.45,"type":"quantitative"},"text":{"field":"region"}}},
  {"data":{"values":[{}]},"mark":{"type":"text","text":"Genes","fontSize":15,"align":"right","baseline":"middle","color":"#222"},
   "encoding":{"x":{"datum":-29,"type":"quantitative"},"y":{"datum":0,"type":"quantitative"}}},
  {"data":{"values":[{}]},"mark":{"type":"text","text":"log₂FC","fontSize":15,"align":"right","baseline":"middle","dy":44,"color":"#222"},
   "encoding":{"x":{"datum":-29,"type":"quantitative"},"y":{"datum":-1,"type":"quantitative"}}},
  {"data":{"values":[{}]},"mark":{"type":"text","text":"Regions","fontSize":15,"align":"right","baseline":"middle","color":"#222"},
   "encoding":{"x":{"datum":-29,"type":"quantitative"},"y":{"datum":-7.25,"type":"quantitative"}}}
 ]}
]
}
